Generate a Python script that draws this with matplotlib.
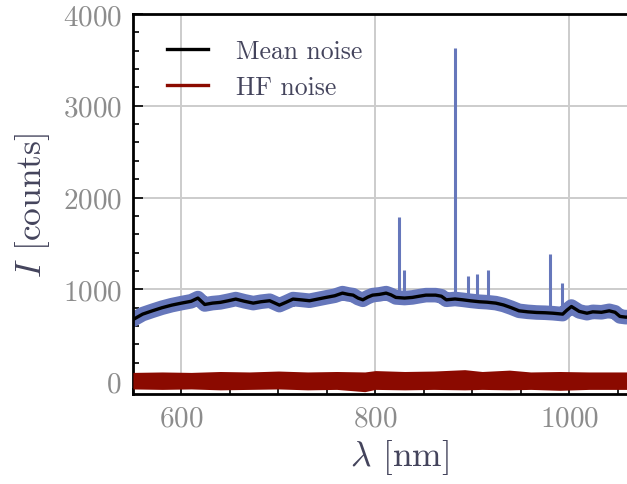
import matplotlib
matplotlib.use('Agg')
import matplotlib.pyplot as plt
from matplotlib.ticker import MultipleLocator

# ---- 数据 ----
wavelength = [550, 560, 570, 580, 590, 600, 610, 617, 624, 632, 640, 648, 656, 665,
              674, 682, 691, 701, 708, 715, 724, 732, 741, 749, 758, 766, 772, 777,
              782, 787, 792, 797, 804, 811, 816, 821, 830, 838, 845, 852, 862, 868,
              873, 882, 890, 898, 907, 915, 924, 932, 940, 948, 957, 966, 975, 983,
              993, 997, 1002, 1010, 1018, 1024, 1033, 1041, 1047, 1052, 1058, 1065]
mean_noise = [670, 730, 766, 800, 828, 850, 870, 905, 835, 850, 858, 875, 894, 870,
              850, 865, 876, 828, 860, 894, 885, 876, 895, 912, 930, 959, 945, 937,
              905, 886, 915, 937, 945, 959, 940, 912, 905, 912, 925, 937, 937, 925,
              886, 895, 886, 875, 865, 860, 850, 830, 800, 766, 755, 748, 745, 740,
              730, 770, 813, 760, 740, 755, 750, 766, 750, 705, 697, 700]

spike_wl = [824, 829, 882.5, 895.5, 905, 916, 980, 992.5]
spike_base = [912, 908, 895, 886, 880, 870, 745, 740]
spike_top = [1790, 1215, 3630, 1150, 1170, 1215, 1380, 1065]

hf_wl = [550, 580, 610, 640, 670, 700, 730, 760, 789, 800, 830, 860, 892, 910,
         938, 960, 990, 1020, 1065]
hf_hi = [95, 100, 95, 105, 100, 110, 100, 105, 100, 115, 105, 110, 125, 105,
         120, 100, 105, 100, 100]
hf_lo = [-85, -90, -85, -95, -90, -85, -95, -90, -115, -90, -95, -90, -95, -90,
         -95, -90, -100, -90, -90]

BLUE = '#6677bb'
RED = '#8b0a00'
LABEL_C = '#44445c'
TICK_C = '#8c8c8c'

plt.rcParams['font.family'] = 'serif'
plt.rcParams['font.serif'] = ['cmr10', 'DejaVu Serif']
plt.rcParams['mathtext.fontset'] = 'cm'
plt.rcParams['axes.formatter.use_mathtext'] = True

fig = plt.figure(figsize=(6.27, 4.85), dpi=100)
ax = fig.add_axes([0.212, 0.1856, 0.851, 0.7835])

# 原始谱线（粗带）+ 尖峰
ax.plot(wavelength, mean_noise, color=BLUE, lw=10.5, solid_joinstyle='round', zorder=2)
ax.vlines(spike_wl, spike_base, spike_top, color=BLUE, lw=2.2, zorder=2)
ax.plot(wavelength, mean_noise, color='black', lw=2.4, label='Mean noise', zorder=3)
ax.fill_between(hf_wl, hf_lo, hf_hi, color=RED, lw=0, zorder=3)
ax.plot([], [], color=RED, lw=2.4, label='HF noise')

ax.set_xlim(550, 1100)
ax.set_ylim(-140, 4000)
ax.xaxis.set_major_locator(MultipleLocator(200))
ax.xaxis.set_minor_locator(MultipleLocator(50))
ax.yaxis.set_major_locator(MultipleLocator(1000))
ax.yaxis.set_minor_locator(MultipleLocator(200))
ax.tick_params(which='both', direction='in', colors='black', labelcolor=TICK_C,
               labelsize=21, width=1.2)
ax.tick_params(which='major', length=7, pad=8)
ax.tick_params(which='minor', length=4)
ax.grid(True, which='major', color='#cccccc', lw=1.4)
ax.set_axisbelow(True)
for s in ax.spines.values():
    s.set_linewidth(2)

ax.set_xlabel(r'$\lambda$ [nm]', fontsize=25.5, color=LABEL_C, labelpad=4)
ax.set_ylabel(r'$I$ [counts]', fontsize=25.5, color=LABEL_C, labelpad=8)

leg = ax.legend(loc='upper left', frameon=False, fontsize=18.5, handlelength=1.6,
                handletextpad=1.1, labelspacing=0.45, borderaxespad=0.6,
                bbox_to_anchor=(0.015, 1.0))
for t in leg.get_texts():
    t.set_color(LABEL_C)

fig.savefig('out.png', dpi=100)
